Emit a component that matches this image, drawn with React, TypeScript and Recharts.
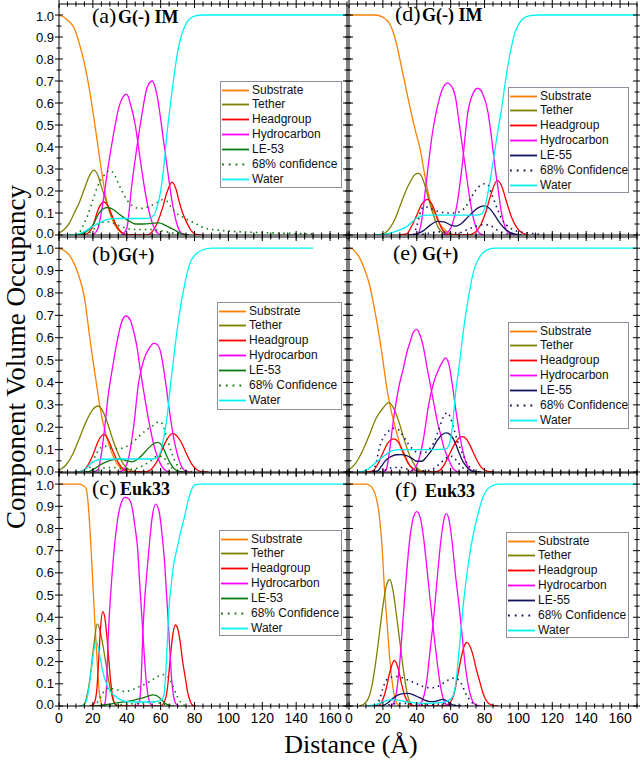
import { LineChart, Line, XAxis, YAxis } from "recharts"

type P = [number, number][]

// ---------- (a) G(-) IM, LE-53 ----------
const subA: P = [[0, 1], [3, 0.99], [6, 0.97], [9, 0.94], [12, 0.87], [15, 0.78], [18, 0.66], [21, 0.51], [24, 0.35], [27, 0.2], [30, 0.1], [33, 0.045], [36, 0.016], [39, 0.004], [43, 0]]
const tethA: P = [[0, 0.008], [3, 0.025], [6, 0.053], [9, 0.1], [12, 0.148], [15, 0.21], [18, 0.27], [20.5, 0.295], [23, 0.27], [25, 0.22], [28, 0.15], [31, 0.085], [34, 0.04], [37, 0.012], [40, 0.002], [45, 0]]
const headA: P = [[12, 0], [16, 0.004], [18, 0.015], [20, 0.04], [22, 0.09], [24, 0.13], [26.5, 0.15], [29, 0.13], [31.5, 0.085], [34, 0.04], [37, 0.01], [40, 0], [52, 0], [55, 0.015], [58, 0.055], [61, 0.12], [64, 0.2], [66.7, 0.24], [69, 0.21], [71, 0.15], [73, 0.1], [75.5, 0.055], [78, 0.02], [81, 0.003], [85, 0]]
const hc1A: P = [[20, 0], [23, 0.03], [26, 0.15], [29, 0.31], [32, 0.45], [35, 0.57], [38, 0.63], [40, 0.64], [42, 0.6], [45, 0.5], [48, 0.34], [51, 0.19], [54, 0.08], [57, 0.02], [60, 0]]
const hc2A: P = [[37, 0], [40, 0.03], [43, 0.23], [46, 0.4], [49, 0.55], [52, 0.67], [55, 0.7], [58, 0.63], [61, 0.47], [64, 0.3], [67, 0.14], [70, 0.04], [73, 0.005], [76, 0]]
const protA: P = [[10, 0], [15, 0.01], [20, 0.045], [23.5, 0.098], [26, 0.118], [28.5, 0.125], [32, 0.116], [35, 0.098], [38, 0.08], [42, 0.061], [45, 0.05], [50, 0.05], [55, 0.053], [59, 0.055], [62.5, 0.045], [65, 0.035], [68, 0.024], [71, 0.01], [74, 0.003], [77, 0]]
const hiA: P = [[10, 0], [12, 0.01], [14, 0.04], [17, 0.09], [20, 0.16], [23, 0.225], [26.5, 0.27], [30, 0.293], [33, 0.27], [35, 0.235], [37.5, 0.195], [40, 0.16], [43, 0.135], [46, 0.123], [49, 0.121], [52, 0.127], [55, 0.136], [58.5, 0.15], [61, 0.16], [63.5, 0.155], [66, 0.13], [68, 0.11], [71, 0.09], [74, 0.078], [77, 0.065], [80, 0.055], [84, 0.038], [88, 0.028], [94, 0.022], [106, 0.015], [125, 0.01], [150, 0.005]]
const loA: P = [[15, 0], [18, 0.01], [21, 0.03], [24, 0.05], [27, 0.06], [30, 0.06], [33, 0.05], [36, 0.04], [40, 0.03], [45, 0.025], [50, 0.025], [55, 0.025], [60, 0.02], [65, 0.012], [70, 0.005], [75, 0]]
const watA: P = [[5, 0], [10, 0.002], [15, 0.015], [20, 0.04], [25, 0.06], [30, 0.073], [35, 0.075], [45, 0.075], [53, 0.076], [56, 0.09], [58, 0.13], [60, 0.2], [62, 0.32], [64, 0.48], [66, 0.61], [68, 0.73], [70, 0.83], [72, 0.9], [75, 0.96], [80, 0.995], [85, 1], [170, 1]]

// ---------- (d) G(-) IM, LE-55 ----------
const subD: P = [[0, 1], [15, 1], [20, 0.99], [24, 0.96], [27, 0.9], [30, 0.8], [33, 0.69], [36, 0.58], [39, 0.48], [42, 0.39], [45, 0.26], [48, 0.15], [51, 0.09], [54, 0.045], [57, 0.02], [60, 0.005], [65, 0]]
const tethD: P = [[15, 0], [20, 0.005], [24, 0.03], [27, 0.07], [30, 0.13], [33, 0.19], [36, 0.24], [39, 0.275], [41, 0.28], [43, 0.265], [45, 0.22], [47, 0.165], [49, 0.11], [51, 0.065], [53, 0.03], [55, 0.012], [58, 0.002], [62, 0]]
const headD: P = [[30, 0], [34, 0.005], [37, 0.04], [40, 0.09], [43, 0.14], [46.5, 0.162], [49, 0.14], [52, 0.08], [55, 0.025], [58, 0.004], [62, 0], [70, 0], [74, 0.01], [78, 0.05], [81, 0.11], [84, 0.19], [87.5, 0.247], [90, 0.225], [93, 0.15], [96, 0.08], [99, 0.035], [102, 0.01], [106, 0]]
const hc1D: P = [[38, 0], [41, 0.01], [43, 0.07], [45, 0.2], [47, 0.33], [49, 0.45], [51, 0.54], [53, 0.61], [55, 0.66], [58, 0.69], [61, 0.67], [63, 0.62], [65, 0.51], [67, 0.4], [69, 0.29], [71, 0.18], [73, 0.09], [75, 0.035], [77, 0.008], [80, 0]]
const hc2D: P = [[55, 0], [58, 0.01], [61, 0.05], [64, 0.15], [67, 0.33], [70, 0.55], [73, 0.64], [76, 0.667], [79, 0.64], [82, 0.56], [84, 0.45], [86, 0.32], [88, 0.21], [90, 0.1], [92, 0.04], [95, 0.005], [98, 0]]
const protD: P = [[35, 0], [40, 0.005], [44, 0.02], [48, 0.045], [52, 0.062], [56, 0.06], [60, 0.045], [63, 0.04], [66, 0.05], [70, 0.08], [74, 0.11], [77, 0.127], [80, 0.132], [83, 0.12], [86, 0.09], [89, 0.055], [92, 0.028], [95, 0.012], [98, 0.004], [102, 0]]
const hiD: P = [[38, 0], [40, 0.04], [42, 0.1], [44, 0.128], [47, 0.125], [50, 0.114], [54, 0.105], [58, 0.1], [62, 0.1], [66, 0.108], [69, 0.13], [72, 0.17], [75, 0.205], [78, 0.228], [80, 0.233], [82, 0.228], [84, 0.19], [86, 0.15], [88, 0.11], [90, 0.075], [93, 0.045], [96, 0.028], [100, 0.016], [105, 0.01], [110, 0.005], [115, 0]]
const loD: P = [[40, 0], [45, 0.005], [50, 0.012], [55, 0.015], [60, 0.008], [65, 0.01], [70, 0.025], [75, 0.04], [80, 0.048], [84, 0.04], [88, 0.02], [92, 0.008], [96, 0]]
const watD: P = [[15, 0], [20, 0.003], [25, 0.01], [30, 0.023], [34, 0.038], [37, 0.058], [40, 0.077], [43, 0.087], [46, 0.09], [55, 0.09], [65, 0.09], [75, 0.09], [78, 0.095], [80, 0.12], [82, 0.19], [84, 0.28], [86, 0.38], [88, 0.48], [90, 0.57], [92, 0.68], [94, 0.78], [96, 0.86], [98, 0.92], [100, 0.955], [103, 0.985], [107, 0.997], [112, 1], [170, 1]]

// ---------- (b) G(+), LE-53 ----------
const subB: P = [[0, 1], [3, 0.99], [6, 0.97], [9, 0.93], [12, 0.87], [15, 0.78], [18, 0.61], [20, 0.5], [22, 0.4], [24, 0.3], [26, 0.22], [28, 0.16], [30, 0.11], [32, 0.07], [34, 0.04], [37, 0.015], [40, 0.004], [45, 0]]
const tethB: P = [[0, 0.007], [4, 0.03], [8, 0.078], [12, 0.15], [16, 0.225], [20, 0.28], [23, 0.295], [26, 0.27], [29, 0.21], [32, 0.14], [35, 0.08], [38, 0.035], [41, 0.012], [45, 0.002], [50, 0]]
const headB: P = [[10, 0], [14, 0.005], [17, 0.03], [20, 0.075], [23, 0.135], [26.5, 0.168], [29, 0.145], [32, 0.09], [35, 0.042], [38, 0.012], [41, 0.002], [45, 0], [50, 0], [53, 0.005], [56, 0.025], [59, 0.065], [62, 0.12], [65, 0.16], [67, 0.173], [69, 0.165], [72, 0.135], [75, 0.085], [78, 0.04], [81, 0.012], [84, 0.002], [88, 0]]
const hc1B: P = [[20, 0], [23, 0.01], [25, 0.08], [27, 0.2], [29, 0.34], [31, 0.44], [33, 0.53], [35, 0.61], [37, 0.67], [39.5, 0.697], [42, 0.68], [44, 0.63], [46, 0.56], [48, 0.455], [50, 0.36], [52, 0.27], [54, 0.19], [56, 0.12], [58, 0.07], [60, 0.035], [62, 0.012], [65, 0]]
const hc2B: P = [[35, 0], [38, 0.01], [41, 0.06], [44, 0.2], [47, 0.4], [50, 0.5], [53, 0.55], [56, 0.575], [58, 0.57], [60, 0.535], [62, 0.45], [64, 0.34], [66, 0.23], [68, 0.14], [70, 0.075], [72, 0.03], [74, 0.008], [77, 0]]
const protB: P = [[15, 0], [18, 0.003], [21, 0.015], [24, 0.03], [28, 0.045], [32, 0.055], [36, 0.058], [40, 0.05], [43, 0.045], [46, 0.055], [49, 0.075], [52, 0.1], [55, 0.122], [58, 0.132], [60, 0.125], [62, 0.1], [64, 0.065], [66, 0.035], [68, 0.015], [71, 0.003], [75, 0]]
const hiB: P = [[16, 0], [19, 0.03], [22, 0.08], [25, 0.11], [28, 0.115], [32, 0.105], [36, 0.105], [40, 0.115], [44, 0.135], [48, 0.165], [52, 0.19], [56, 0.21], [59, 0.225], [61, 0.215], [63, 0.17], [65, 0.12], [67, 0.075], [69, 0.04], [72, 0.015], [76, 0.004], [80, 0]]
const loB: P = [[20, 0], [24, 0.01], [28, 0.02], [32, 0.02], [36, 0.015], [40, 0.012], [45, 0.015], [50, 0.03], [54, 0.05], [58, 0.07], [61, 0.07], [64, 0.04], [67, 0.015], [70, 0.003], [73, 0]]
const watB: P = [[10, 0], [13, 0.002], [16, 0.015], [19, 0.04], [22, 0.052], [26, 0.057], [35, 0.058], [45, 0.058], [55, 0.058], [58, 0.065], [60, 0.09], [62, 0.16], [64, 0.26], [66, 0.4], [68, 0.53], [70, 0.65], [72, 0.75], [74, 0.83], [76, 0.9], [78, 0.945], [81, 0.975], [85, 0.993], [90, 1], [150, 1]]

// ---------- (e) G(+), LE-55 ----------
const subE: P = [[0, 1], [3, 0.99], [6, 0.96], [9, 0.91], [12, 0.84], [15, 0.73], [18, 0.6], [20, 0.5], [22, 0.39], [25, 0.27], [28, 0.18], [31, 0.1], [34, 0.05], [37, 0.02], [40, 0.005], [45, 0]]
const tethE: P = [[0, 0.01], [4, 0.04], [8, 0.095], [12, 0.165], [16, 0.24], [20, 0.285], [23.5, 0.31], [26, 0.29], [29, 0.235], [32, 0.16], [35, 0.09], [38, 0.04], [41, 0.012], [44, 0.002], [48, 0]]
const headE: P = [[10, 0], [14, 0.005], [17, 0.035], [20, 0.085], [23, 0.13], [26.5, 0.148], [29, 0.135], [32, 0.09], [35, 0.04], [38, 0.012], [41, 0.002], [45, 0], [50, 0], [53, 0.005], [56, 0.03], [59, 0.075], [62, 0.12], [65, 0.152], [67, 0.158], [69, 0.15], [72, 0.11], [75, 0.06], [78, 0.022], [81, 0.005], [85, 0]]
const hc1E: P = [[20, 0], [22, 0.01], [24, 0.1], [26, 0.22], [28, 0.32], [30, 0.4], [32, 0.46], [34, 0.53], [36, 0.58], [38, 0.625], [40, 0.637], [42, 0.61], [44, 0.555], [46, 0.47], [48, 0.39], [50, 0.31], [52, 0.23], [54, 0.17], [56, 0.11], [58, 0.07], [60, 0.035], [62, 0.01], [65, 0]]
const hc2E: P = [[35, 0], [38, 0.01], [41, 0.05], [44, 0.15], [47, 0.3], [50, 0.4], [53, 0.46], [55, 0.49], [57, 0.51], [59, 0.48], [61, 0.39], [63, 0.28], [65, 0.18], [67, 0.1], [69, 0.045], [71, 0.015], [74, 0]]
const protE: P = [[14, 0], [17, 0.005], [19, 0.025], [22, 0.055], [25, 0.07], [28, 0.077], [31, 0.078], [34, 0.073], [37, 0.062], [40, 0.048], [43, 0.048], [46, 0.07], [49, 0.1], [52, 0.14], [55, 0.168], [57.5, 0.175], [60, 0.165], [63, 0.125], [65, 0.085], [67, 0.05], [69, 0.028], [71, 0.01], [74, 0.002], [78, 0]]
const hiE: P = [[14, 0], [16, 0.04], [18, 0.11], [20, 0.15], [23, 0.18], [26, 0.195], [29, 0.19], [32, 0.16], [35, 0.125], [38, 0.1], [41, 0.085], [44, 0.085], [47, 0.1], [50, 0.13], [53, 0.19], [56, 0.25], [58, 0.265], [60, 0.24], [62, 0.19], [64, 0.14], [66, 0.1], [68, 0.065], [70, 0.035], [73, 0.012], [77, 0]]
const loE: P = [[18, 0], [22, 0.01], [26, 0.02], [30, 0.02], [35, 0.012], [40, 0.005], [45, 0.005], [50, 0.015], [54, 0.04], [58, 0.065], [61, 0.07], [64, 0.045], [67, 0.02], [70, 0.005], [73, 0]]
const watE: P = [[5, 0], [8, 0.003], [11, 0.012], [14, 0.03], [17, 0.05], [20, 0.068], [23, 0.085], [26, 0.095], [30, 0.1], [40, 0.1], [50, 0.1], [57, 0.102], [59, 0.12], [61, 0.2], [63, 0.36], [65, 0.47], [67, 0.6], [69, 0.71], [71, 0.8], [73, 0.88], [75, 0.93], [78, 0.97], [81, 0.99], [86, 1], [170, 1]]

// ---------- (c) Euk33, LE-53 ----------
const subC: P = [[0, 1], [12, 1], [14, 0.995], [16, 0.98], [17, 0.93], [18, 0.83], [19, 0.7], [20, 0.55], [21, 0.4], [22, 0.27], [23, 0.14], [24, 0.05], [25, 0.012], [26, 0]]
const tethC: P = [[12, 0], [14, 0.003], [16, 0.03], [17.5, 0.085], [19, 0.17], [20, 0.24], [21, 0.3], [22.5, 0.37], [23.5, 0.36], [24.5, 0.33], [26, 0.27], [27.5, 0.2], [29, 0.13], [30.5, 0.07], [32, 0.025], [34, 0.004], [37, 0]]
const headC: P = [[18, 0], [20, 0.005], [21.5, 0.03], [22.5, 0.09], [23.5, 0.22], [24.5, 0.35], [25.8, 0.425], [27, 0.4], [28.3, 0.31], [29.5, 0.2], [30.5, 0.11], [31.5, 0.05], [33, 0.01], [35, 0], [60, 0], [62, 0.015], [64, 0.08], [65.5, 0.2], [67, 0.31], [68.6, 0.365], [70, 0.35], [71.5, 0.29], [73, 0.2], [74.5, 0.13], [76, 0.06], [77.5, 0.02], [79, 0.003], [81, 0]]
const hc1C: P = [[25, 0], [27, 0.01], [28, 0.08], [29, 0.3], [30, 0.45], [31, 0.56], [33, 0.74], [35, 0.86], [37, 0.92], [39, 0.94], [41, 0.935], [43, 0.9], [45, 0.8], [46.5, 0.7], [47.5, 0.57], [48.5, 0.45], [49.5, 0.33], [50.5, 0.21], [51.5, 0.11], [52.5, 0.05], [54, 0.01], [56, 0]]
const hc2C: P = [[46, 0], [47.5, 0.02], [48.5, 0.12], [49.5, 0.33], [50.5, 0.47], [51.5, 0.57], [53, 0.7], [55, 0.85], [57, 0.91], [59, 0.88], [61, 0.76], [62.5, 0.63], [63.5, 0.5], [64.5, 0.38], [65.5, 0.24], [66.5, 0.12], [67.5, 0.05], [69, 0.01], [71, 0]]
const protC: P = [[20, 0], [25, 0.003], [30, 0.008], [35, 0.015], [40, 0.02], [45, 0.028], [50, 0.038], [53, 0.046], [55.5, 0.05], [58, 0.045], [60, 0.032], [62, 0.017], [64, 0.006], [66, 0.001], [68, 0]]
const hiC: P = [[20, 0], [23, 0.02], [26, 0.06], [29, 0.08], [32, 0.078], [35, 0.072], [38, 0.066], [41, 0.068], [44, 0.076], [47, 0.086], [50, 0.096], [53, 0.108], [56, 0.122], [59, 0.135], [62, 0.142], [64, 0.135], [66, 0.11], [68, 0.075], [70, 0.04], [72, 0.015], [75, 0]]
const loC: P = [[20, 0], [30, 0.003], [40, 0.008], [50, 0.015], [55, 0.02], [60, 0.012], [65, 0.003], [68, 0]]
const watC: P = [[13, 0], [15, 0.005], [17, 0.05], [19, 0.16], [20.5, 0.25], [22, 0.29], [23, 0.27], [24.5, 0.21], [26, 0.15], [28, 0.1], [30, 0.068], [33, 0.045], [36, 0.03], [40, 0.02], [45, 0.018], [55, 0.018], [60, 0.025], [62, 0.05], [63, 0.15], [64, 0.3], [65, 0.45], [66, 0.53], [67, 0.6], [68, 0.65], [70, 0.72], [72, 0.79], [74, 0.85], [76, 0.92], [78, 0.97], [80, 0.995], [83, 1], [170, 1]]

// ---------- (f) Euk33, LE-55 ----------
const subF: P = [[0, 1], [10, 1], [12, 0.995], [14, 0.98], [16, 0.94], [18, 0.85], [19.5, 0.72], [21, 0.52], [22, 0.42], [23, 0.32], [24, 0.22], [25, 0.14], [26, 0.08], [27, 0.04], [28, 0.015], [30, 0]]
const tethF: P = [[6, 0], [9, 0.01], [12, 0.045], [14, 0.11], [16, 0.21], [18, 0.33], [20, 0.45], [22, 0.54], [24, 0.57], [26, 0.52], [28, 0.41], [30, 0.29], [32, 0.17], [34, 0.07], [36, 0.015], [38, 0.002], [41, 0]]
const headF: P = [[15, 0], [18, 0.005], [20, 0.03], [22, 0.08], [24, 0.15], [26.8, 0.205], [29, 0.17], [31, 0.1], [33, 0.045], [35, 0.015], [37, 0.003], [40, 0], [56, 0], [59, 0.01], [62, 0.055], [64, 0.13], [66, 0.21], [68, 0.27], [69.5, 0.287], [71, 0.275], [73, 0.235], [75, 0.17], [77, 0.115], [79, 0.06], [81, 0.025], [84, 0.005], [88, 0]]
const hc1F: P = [[24, 0], [26, 0.01], [28, 0.06], [30, 0.2], [32, 0.4], [34, 0.6], [36, 0.76], [38, 0.85], [40, 0.876], [42, 0.85], [44, 0.76], [46, 0.62], [48, 0.47], [50, 0.33], [52, 0.2], [54, 0.09], [56, 0.025], [58, 0.004], [60, 0]]
const hc2F: P = [[40, 0], [42, 0.01], [44, 0.04], [46, 0.12], [48, 0.26], [50, 0.4], [52, 0.57], [54, 0.73], [56, 0.84], [57.5, 0.867], [59, 0.84], [61, 0.73], [63, 0.58], [65, 0.45], [67, 0.3], [69, 0.16], [71, 0.07], [73, 0.02], [75, 0.004], [78, 0]]
const protF: P = [[17, 0], [20, 0.003], [23, 0.015], [26, 0.035], [29, 0.05], [32, 0.056], [35, 0.057], [38, 0.05], [41, 0.04], [44, 0.029], [47, 0.021], [50, 0.02], [53, 0.025], [55.5, 0.03], [58, 0.022], [60, 0.01], [62, 0.003], [65, 0]]
const hiF: P = [[16, 0], [18, 0.03], [20, 0.08], [22, 0.115], [25, 0.13], [28, 0.133], [31, 0.128], [34, 0.12], [37, 0.11], [40, 0.1], [43, 0.09], [46, 0.083], [49, 0.082], [52, 0.087], [55, 0.1], [58, 0.115], [61, 0.125], [63, 0.125], [65, 0.115], [67, 0.09], [69, 0.055], [71, 0.03], [73, 0.012], [76, 0]]
const loF: P = [[20, 0], [25, 0.008], [30, 0.012], [35, 0.012], [40, 0.008], [45, 0.005], [50, 0.006], [55, 0.01], [60, 0.006], [65, 0.002], [70, 0]]
const watF: P = [[10, 0], [15, 0.005], [20, 0.018], [24, 0.028], [28, 0.028], [32, 0.022], [38, 0.015], [44, 0.012], [50, 0.013], [55, 0.016], [58, 0.022], [61, 0.04], [63, 0.1], [65, 0.25], [67, 0.42], [69, 0.56], [71, 0.67], [73, 0.76], [75, 0.83], [77, 0.89], [79, 0.94], [81, 0.97], [84, 0.99], [88, 1], [170, 1]]

// axis ticks
const xTicks = [0, 5, 10, 15, 20, 25, 30, 35, 40, 45, 50, 55, 60, 65, 70, 75, 80, 85, 90, 95, 100, 105, 110, 115, 120, 125, 130, 135, 140, 145, 150, 155, 160, 165, 170]
const yTicks = [0, 0.05, 0.1, 0.15, 0.2, 0.25, 0.3, 0.35, 0.4, 0.45, 0.5, 0.55, 0.6, 0.65, 0.7, 0.75, 0.8, 0.85, 0.9, 0.95, 1.0]

const SANS = '"Liberation Sans", Arial, sans-serif'
const SERIF = '"Liberation Serif", "Times New Roman", serif'

const ORANGE = "#FF8000"
const OLIVE = "#808000"
const RED = "#FF0000"
const MAGENTA = "#FF00FF"
const GREEN = "#0A7A0A"
const NAVY = "#12125E"
const CYAN = "#00F2F2"

// plot-area edges in page pixels
const cols = [{ x0: 59, x1: 347 }, { x0: 349, x1: 637 }]
const rows = [{ y0: 4, y1: 235 }, { y0: 237, y1: 472 }, { y0: 473, y1: 706 }]

const panels = [
  { col: 0, row: 0, tag: "(a)", name: "G(-) IM", tagX: 92, tagY: 23, nameX: 118, prot: "LE-53", conf: "68% confidence", pc: GREEN, legend: [220, 81, 122, 107], sub: subA, teth: tethA, head: headA, hc1: hc1A, hc2: hc2A, pr: protA, hi: hiA, lo: loA, wat: watA },
  { col: 1, row: 0, tag: "(d)", name: "G(-) IM", tagX: 395, tagY: 21, nameX: 422, prot: "LE-55", conf: "68% Confidence", pc: NAVY, legend: [508, 87, 121, 106], sub: subD, teth: tethD, head: headD, hc1: hc1D, hc2: hc2D, pr: protD, hi: hiD, lo: loD, wat: watD },
  { col: 0, row: 1, tag: "(b)", name: "G(+)", tagX: 92, tagY: 261, nameX: 118, prot: "LE-53", conf: "68% Confidence", pc: GREEN, legend: [217, 302, 125, 108], sub: subB, teth: tethB, head: headB, hc1: hc1B, hc2: hc2B, pr: protB, hi: hiB, lo: loB, wat: watB },
  { col: 1, row: 1, tag: "(e)", name: "G(+)", tagX: 393, tagY: 260, nameX: 422, prot: "LE-55", conf: "68% Confidence", pc: NAVY, legend: [508, 322, 121, 107], sub: subE, teth: tethE, head: headE, hc1: hc1E, hc2: hc2E, pr: protE, hi: hiE, lo: loE, wat: watE },
  { col: 0, row: 2, tag: "(c)", name: "Euk33", tagX: 92, tagY: 495, nameX: 120, prot: "LE-53", conf: "68% Confidence", pc: GREEN, legend: [219, 530, 123, 106], sub: subC, teth: tethC, head: headC, hc1: hc1C, hc2: hc2C, pr: protC, hi: hiC, lo: loC, wat: watC },
  { col: 1, row: 2, tag: "(f)", name: "Euk33", tagX: 395, tagY: 497, nameX: 425, prot: "LE-55", conf: "68% Confidence", pc: NAVY, legend: [506, 532, 123, 106], sub: subF, teth: tethF, head: headF, hc1: hc1F, hc2: hc2F, pr: protF, hi: hiF, lo: loF, wat: watF },
]

const pts = (a: P) => a.map(([x, y]) => ({ x, y }))

const xTick = (labels: boolean) => (p: any) => {
  const v = p.payload.value
  const major = v % 20 === 0
  const len = major ? 4 : 2.5
  return (
    <g>
      <line x1={p.x} x2={p.x} y1={p.y - len} y2={p.y + len} stroke="#000" strokeWidth={1} />
      {labels && major ? (
        <text x={p.x} y={p.y + 17} textAnchor="middle" fontSize={14} fontFamily={SANS} fill="#000">{v}</text>
      ) : null}
    </g>
  )
}

const yTick = (labels: boolean) => (p: any) => {
  const v = p.payload.value
  const major = Math.round(v * 100) % 10 === 0
  const len = major ? 4 : 2.5
  // stacked panels put 0.0 and 1.0 close together; nudge them apart a little
  const nudge = v === 0 ? -1.5 : v === 1 ? 1.5 : 0
  return (
    <g>
      <line x1={p.x - len} x2={p.x + len} y1={p.y} y2={p.y} stroke="#000" strokeWidth={1} />
      {labels && major ? (
        <text x={p.x - 5} y={p.y + 4.5 + nudge} textAnchor="end" fontSize={13} fontFamily={SANS} fill="#000">{v.toFixed(1)}</text>
      ) : null}
    </g>
  )
}

function Panel({ cfg }: { cfg: any }) {
  const c = cols[cfg.col]
  const r = rows[cfg.row]
  const mL = 50, mR = 6, mT = 6
  const mB = cfg.row === 2 ? 24 : 12
  const w = c.x1 - c.x0 + mL + mR
  const h = r.y1 - r.y0 + mT + mB
  const series = [
    { d: cfg.sub, color: ORANGE },
    { d: cfg.teth, color: OLIVE },
    { d: cfg.head, color: RED },
    { d: cfg.hc1, color: MAGENTA },
    { d: cfg.hc2, color: MAGENTA },
    { d: cfg.pr, color: cfg.pc },
    { d: cfg.hi, color: cfg.pc, dotted: true },
    { d: cfg.lo, color: cfg.pc, dotted: true },
    { d: cfg.wat, color: CYAN },
  ]
  // axes take 1px each; margins are reduced by 1 so the plot area stays on the page grid
  return (
    <div style={{ position: "absolute", left: c.x0 - mL, top: r.y0 - mT }}>
      <LineChart width={w} height={h} margin={{ top: mT - 1, right: mR - 1, bottom: mB - 1, left: mL - 1 }} style={{ overflow: "visible" }}>
        <XAxis xAxisId="b" type="number" dataKey="x" domain={[0, 170]} ticks={xTicks} interval={0} allowDataOverflow
          height={1} tickSize={0} tickMargin={0} tickLine={false} axisLine={{ stroke: "#000" }} tick={xTick(cfg.row === 2)} />
        <XAxis xAxisId="t" orientation="top" type="number" dataKey="x" domain={[0, 170]} ticks={xTicks} interval={0} allowDataOverflow
          height={1} tickSize={0} tickMargin={0} tickLine={false} axisLine={{ stroke: "#000" }} tick={xTick(false)} />
        <YAxis yAxisId="l" type="number" domain={[0, 1.05]} ticks={yTicks} interval={0} allowDataOverflow
          width={1} tickSize={0} tickMargin={0} tickLine={false} axisLine={{ stroke: "#000" }} tick={yTick(cfg.col === 0)} />
        <YAxis yAxisId="r" orientation="right" type="number" domain={[0, 1.05]} ticks={yTicks} interval={0} allowDataOverflow
          width={1} tickSize={0} tickMargin={0} tickLine={false} axisLine={{ stroke: "#000" }} tick={yTick(false)} />
        {series.map((s, i) => (
          <Line key={i} xAxisId="b" yAxisId="l" data={pts(s.d)} dataKey="y" type="monotone" stroke={s.color}
            strokeWidth={s.dotted ? 1.6 : 1.3} strokeDasharray={s.dotted ? "1.5 4" : undefined}
            dot={false} activeDot={false} isAnimationActive={false} />
        ))}
      </LineChart>
    </div>
  )
}

function LegendBox({ cfg }: { cfg: any }) {
  const [left, top, width, height] = cfg.legend
  const items = [
    { label: "Substrate", color: ORANGE },
    { label: "Tether", color: OLIVE },
    { label: "Headgroup", color: RED },
    { label: "Hydrocarbon", color: MAGENTA },
    { label: cfg.prot, color: cfg.pc },
    { label: cfg.conf, color: cfg.pc, dotted: true },
    { label: "Water", color: CYAN },
  ]
  return (
    <div style={{ position: "absolute", left, top, width, height, background: "#fff", border: "1px solid #8e8e9a", boxSizing: "border-box" }}>
      {items.map((it, i) => (
        <div key={i} style={{ position: "absolute", left: 0, top: 0.5 + i * 14.9, height: 15, display: "flex", alignItems: "center" }}>
          <svg width={29} height={15}>
            <line x1={1} x2={28} y1={7.5} y2={7.5} stroke={it.color} strokeWidth={1.8} strokeDasharray={it.dotted ? "1.8 5" : undefined} />
          </svg>
          <span style={{ marginLeft: 2, fontSize: 12, fontFamily: SANS, color: "#111", whiteSpace: "nowrap", lineHeight: "15px" }}>{it.label}</span>
        </div>
      ))}
    </div>
  )
}

export default function App() {
  return (
    <div style={{ position: "absolute", left: 0, top: 0, width: 640, height: 762, background: "#fff", overflow: "hidden" }}>
      {panels.map((p, i) => <Panel key={i} cfg={p} />)}
      <svg width={640} height={762} style={{ position: "absolute", left: 0, top: 0, pointerEvents: "none" }}>
        {panels.map((p, i) => (
          <g key={i}>
            <text x={p.tagX} y={p.tagY} fontSize={22} fontFamily={SERIF} fill="#000">{p.tag}</text>
            <text x={p.nameX} y={p.tagY} fontSize={18} fontWeight="bold" fontFamily={SERIF} fill="#000">{p.name}</text>
          </g>
        ))}
        <text transform="translate(25,357) rotate(-90)" textAnchor="middle" fontSize={27} fontFamily={SERIF} fill="#000">Component Volume Occupancy</text>
        <text x={351} y={753} textAnchor="middle" fontSize={26} fontFamily={SERIF} fill="#000">Distance (Å)</text>
      </svg>
      {panels.map((p, i) => <LegendBox key={i} cfg={p} />)}
    </div>
  )
}
